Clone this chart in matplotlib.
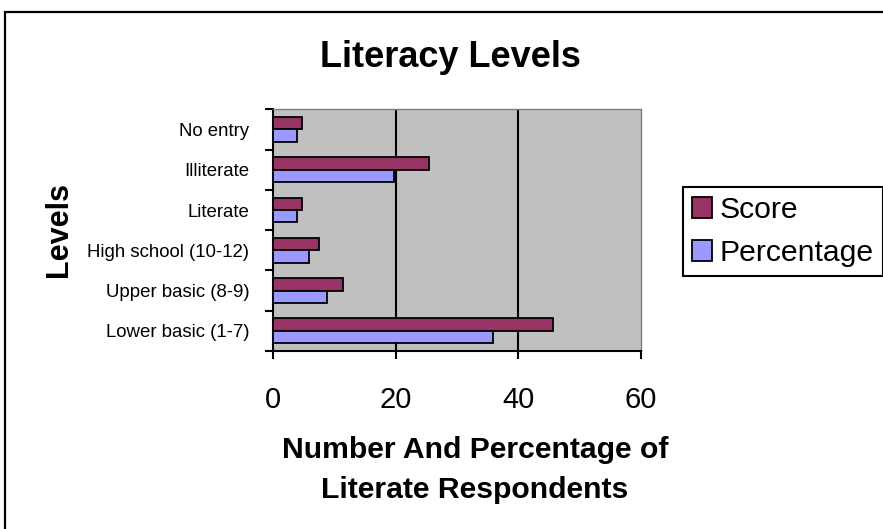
import matplotlib
matplotlib.use("Agg")
import matplotlib.pyplot as plt
from matplotlib.patches import Patch, Rectangle
import numpy as np

plt.rcParams['font.family'] = ['Liberation Sans', 'DejaVu Sans']

# Categories listed bottom to top
levels = ["Lower basic (1-7)", "Upper basic (8-9)", "High school (10-12)",
          "Literate", "Illiterate", "No entry"]
score = [45.6, 11.4, 7.5, 4.8, 25.4, 4.8]
percentage = [35.9, 8.8, 5.8, 3.9, 19.8, 3.9]
x_ticks = [0, 20, 40, 60]

SCORE_COLOR = "#993366"
PCT_COLOR = "#9999FF"

W, H = 883, 529
fig = plt.figure(figsize=(W / 100, H / 100), dpi=100)

# Outer chart frame (open at the right and bottom edges)
fig.patches.append(Rectangle((5 / W, -0.1), 1.2, 1 - 12 / H + 0.1,
                             transform=fig.transFigure, fill=False,
                             edgecolor="black", linewidth=1.6))

ax = fig.add_axes([273 / W, 1 - 351 / H, (641 - 273) / W, (351 - 109.3) / H])
ax.set_facecolor("#C0C0C0")

y = np.arange(len(levels))
bh = 0.31
ax.barh(y + bh / 2, score, height=bh, color=SCORE_COLOR,
        edgecolor="black", linewidth=1.3, zorder=3)
ax.barh(y - bh / 2, percentage, height=bh, color=PCT_COLOR,
        edgecolor="black", linewidth=1.3, zorder=3)

ax.set_xlim(0, 60)
ax.set_ylim(-0.5, len(levels) - 0.5)

# Vertical gridlines
for xv in x_ticks[1:-1]:
    ax.axvline(xv, color="black", linewidth=1.5, zorder=2)

# Spines
for side in ("top", "right"):
    ax.spines[side].set_color("#808080")
    ax.spines[side].set_linewidth(1.0)
for side in ("left", "bottom"):
    ax.spines[side].set_color("black")
    ax.spines[side].set_linewidth(1.5)

# X axis ticks
ax.set_xticks(x_ticks)
ax.set_xticklabels([str(v) for v in x_ticks], fontsize=21)
ax.tick_params(axis="x", direction="out", length=6, width=1.5, pad=19)

# Y axis: boundary ticks, category labels centred between them
ax.set_yticks(np.arange(-0.5, len(levels), 1.0))
ax.set_yticklabels([])
ax.tick_params(axis="y", which="major", direction="out", length=6, width=1.5)
ax.set_yticks(y, minor=True)
ax.set_yticklabels(levels, minor=True, fontsize=13.4)
ax.tick_params(axis="y", which="minor", length=0, pad=17)

fig.text(450 / W, 1 - 66.7 / H, "Literacy Levels", fontsize=26,
         fontweight="bold", ha="center", va="baseline")
fig.text(66.7 / W, 1 - 229.5 / H, "Levels", fontsize=22, fontweight="bold",
         rotation=90, ha="center", va="baseline", rotation_mode="anchor")
fig.text(475 / W, 1 - 470 / H, "Number And Percentage of\nLiterate Respondents",
         fontsize=21.7, fontweight="bold", ha="center", va="center",
         linespacing=1.55)

handles = [Patch(facecolor=SCORE_COLOR, edgecolor="black", linewidth=1.3),
           Patch(facecolor=PCT_COLOR, edgecolor="black", linewidth=1.3)]
leg = fig.legend(handles, ["Score", "Percentage"], loc="upper left",
                 bbox_to_anchor=(682.7 / W, 1 - 187.3 / H),
                 fontsize=21.7, frameon=True, fancybox=False, framealpha=1,
                 edgecolor="black", handlelength=0.68, handleheight=0.68,
                 handletextpad=0.25, labelspacing=0.5, borderpad=0.3,
                 borderaxespad=0)
leg.get_frame().set_linewidth(1.5)

fig.savefig("out.png", dpi=100)
